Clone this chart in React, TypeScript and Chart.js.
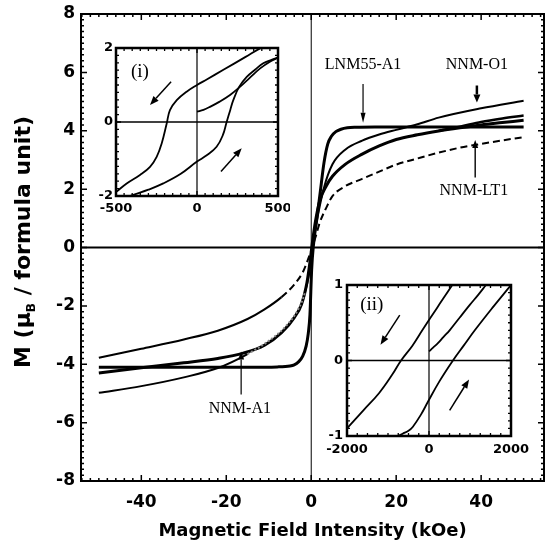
import React, { useEffect, useRef } from 'react';
import { Chart, registerables } from 'chart.js';
Chart.register(...registerables);

// ---------- main panel data (field in kOe, M in muB / f.u.) ----------
const FIELD_TICKS = [-40, -20, 0, 20, 40];
const M_TICKS = [-8, -6, -4, -2, 0, 2, 4, 6, 8];

const LNM_X = [-50, -30, -15, -8, -5, -4, -3, -2, -1.2, -0.7, -0.3, 0.1, 0.5, 1.3, 2.1, 3.0, 3.9, 4.8, 5.8, 7, 8.5, 10.5, 15, 25, 35, 50];
const LNM_Y = [-4.1, -4.1, -4.1, -4.09, -4.06, -4.02, -3.92, -3.72, -3.38, -2.95, -2.3, -0.75, 0.05, 0.96, 1.87, 2.9, 3.55, 3.82, 3.97, 4.05, 4.1, 4.12, 4.13, 4.13, 4.13, 4.13];

const O1_X = [-50, -40, -30, -22, -15, -10, -6, -3, -1.5, -0.5, 0, 0.5, 1.5, 3, 5, 8, 12, 16, 20, 25, 30, 40, 50];
const O1_Y = [-4.98, -4.75, -4.45, -4.13, -3.65, -3.2, -2.7, -2.1, -1.55, -0.9, -0.4, 0.2, 1.05, 2.05, 2.85, 3.35, 3.66, 3.87, 4.03, 4.22, 4.45, 4.77, 5.03];

const A1_X = [-50, -40, -30, -22, -16, -11, -7, -4, -2.3, -1, -0.3, 0.3, 1, 2, 3.5, 5, 8, 12, 16, 20, 25, 30, 35, 40, 45, 50];
const A1_Y = [-4.3, -4.12, -3.95, -3.8, -3.62, -3.35, -2.92, -2.4, -1.95, -1.2, -0.5, 0.2, 0.9, 1.6, 2.1, 2.44, 2.85, 3.2, 3.48, 3.7, 3.86, 3.99, 4.1, 4.2, 4.28, 4.36];
const A1_RET_X = [30, 35, 40, 45, 50];
const A1_RET_Y = [4.0, 4.14, 4.3, 4.42, 4.52];

const LT1_X = [-50, -40, -30, -22, -15, -11, -7, -4, -2, -1, 0, 1, 2, 3.5, 5, 8, 12, 16, 20, 25, 30, 35, 40, 45, 50];
const LT1_Y = [-3.78, -3.47, -3.15, -2.85, -2.45, -2.12, -1.7, -1.27, -0.85, -0.5, -0.1, 0.35, 0.85, 1.35, 1.76, 2.1, 2.35, 2.6, 2.84, 3.05, 3.25, 3.42, 3.55, 3.67, 3.78];

// ---------- inset (i): field in Oe ----------
const I_X_TICKS = [-500, 0, 500];
const I_Y_TICKS = [-2, 0, 2];
const I_DESC_X = [-496, -434, -352, -290, -249, -218, -187, -167, -125, -64, 0, 60, 163, 300, 389, 450, 500];
const I_DESC_Y = [-1.88, -1.66, -1.43, -1.21, -0.94, -0.58, -0.04, 0.32, 0.59, 0.82, 1.0, 1.15, 1.41, 1.76, 1.99, 2.12, 2.22];
const I_ASC_X = [-500, -440, -393, -300, -208, -100, 0, 60, 121, 160, 183, 205, 224, 260, 307, 360, 409, 460, 500];
const I_ASC_Y = [-2.15, -2.05, -1.97, -1.83, -1.66, -1.4, -1.07, -0.9, -0.67, -0.35, 0, 0.32, 0.59, 0.95, 1.22, 1.42, 1.59, 1.68, 1.74];
const I_VIRGIN_X = [0, 40, 80, 140, 204, 265, 327, 390, 450, 500];
const I_VIRGIN_Y = [0.28, 0.33, 0.41, 0.55, 0.73, 0.95, 1.2, 1.45, 1.63, 1.74];

// ---------- inset (ii): field in Oe ----------
const II_X_TICKS = [-2000, 0, 2000];
const II_Y_TICKS = [-1, 0, 1];
const II_DESC_X = [-2000, -1600, -1215, -900, -682, -400, -152, 200, 567, 800];
const II_DESC_Y = [-0.9, -0.66, -0.43, -0.19, 0, 0.2, 0.41, 0.7, 1.0, 1.2];
const II_ASC_X = [-750, -643, -500, -397, -200, -29, 250, 584, 850, 1117, 1550, 2000];
const II_ASC_Y = [-1.0, -0.97, -0.93, -0.88, -0.72, -0.55, -0.28, 0, 0.2, 0.4, 0.7, 1.0];
const II_VIRGIN_X = [0, 100, 217, 350, 503, 750, 1000, 1200, 1390];
const II_VIRGIN_Y = [0.12, 0.17, 0.23, 0.31, 0.4, 0.57, 0.74, 0.87, 1.0];

const pts = (xs: number[], ys: number[]) => xs.map((x, i) => ({ x, y: ys[i] }));

const SANS = 'DejaVu Sans';
const SERIF = 'Liberation Serif';

function drawArrow(ctx: CanvasRenderingContext2D, x1: number, y1: number, x2: number, y2: number, w: number, hl: number, hw: number) {
  const ang = Math.atan2(y2 - y1, x2 - x1);
  const bx = x2 - hl * Math.cos(ang);
  const by = y2 - hl * Math.sin(ang);
  ctx.lineWidth = w;
  ctx.beginPath();
  ctx.moveTo(x1, y1);
  ctx.lineTo(bx, by);
  ctx.stroke();
  ctx.beginPath();
  ctx.moveTo(x2, y2);
  ctx.lineTo(bx + (hw / 2) * Math.sin(ang), by - (hw / 2) * Math.cos(ang));
  ctx.lineTo(bx - (hw / 2) * Math.sin(ang), by + (hw / 2) * Math.cos(ang));
  ctx.closePath();
  ctx.fill();
}

const framePlugin = {
  id: 'frame',
  beforeDatasetsDraw(chart: any, _a: any, o: any) {
    const { ctx, chartArea: a, scales } = chart;
    ctx.save();
    ctx.strokeStyle = '#000';
    const py = scales.y.getPixelForValue(0);
    ctx.lineWidth = o.zeroH;
    ctx.beginPath();
    ctx.moveTo(a.left, py);
    ctx.lineTo(a.right, py);
    ctx.stroke();
    const px = scales.x.getPixelForValue(0);
    ctx.lineWidth = o.zeroV;
    ctx.beginPath();
    ctx.moveTo(px, a.top);
    ctx.lineTo(px, a.bottom);
    ctx.stroke();
    ctx.restore();
  },
  afterDatasetsDraw(chart: any, _a: any, o: any) {
    const { ctx, chartArea: a, scales } = chart;
    const xs = scales.x;
    const ys = scales.y;
    ctx.save();
    ctx.strokeStyle = '#000';
    ctx.lineWidth = o.tickWidth;
    ctx.beginPath();
    const isMajor = (v: number, m: number) => Math.abs(v / m - Math.round(v / m)) < 1e-6;
    for (let i = Math.ceil(xs.min / o.xMinor - 1e-6); i * o.xMinor <= xs.max + 1e-6; i++) {
      const v = i * o.xMinor;
      const len = isMajor(v, o.xMajor) ? o.major : o.minor;
      const p = xs.getPixelForValue(v);
      ctx.moveTo(p, a.bottom);
      ctx.lineTo(p, a.bottom - len);
      ctx.moveTo(p, a.top);
      ctx.lineTo(p, a.top + len);
    }
    for (let i = Math.ceil(ys.min / o.yMinor - 1e-6); i * o.yMinor <= ys.max + 1e-6; i++) {
      const v = i * o.yMinor;
      const len = isMajor(v, o.yMajor) ? o.major : o.minor;
      const p = ys.getPixelForValue(v);
      ctx.moveTo(a.left, p);
      ctx.lineTo(a.left + len, p);
      ctx.moveTo(a.right, p);
      ctx.lineTo(a.right - len, p);
    }
    ctx.stroke();
    ctx.lineWidth = o.frameWidth;
    ctx.strokeRect(a.left, a.top, a.right - a.left, a.bottom - a.top);
    ctx.restore();
  },
};

const notesPlugin = {
  id: 'notes',
  afterDatasetsDraw(chart: any, _a: any, o: any) {
    const { ctx, scales } = chart;
    const X = (v: number) => scales.x.getPixelForValue(v);
    const Y = (v: number) => scales.y.getPixelForValue(v);
    ctx.save();
    ctx.fillStyle = '#000';
    ctx.strokeStyle = '#000';
    ctx.textAlign = 'center';
    ctx.textBaseline = 'middle';
    (o.texts || []).forEach((t: any) => {
      ctx.font = `${t.size}px "${SERIF}"`;
      ctx.fillText(t.text, X(t.x), Y(t.y));
    });
    (o.arrows || []).forEach((r: any) => {
      drawArrow(ctx, X(r.x1), Y(r.y1), X(r.x2), Y(r.y2), r.w, r.hl, r.hw);
    });
    ctx.restore();
  },
};

const titlesPlugin = {
  id: 'titles',
  afterDraw(chart: any) {
    const { ctx, chartArea: a } = chart;
    ctx.save();
    ctx.fillStyle = '#000';
    ctx.textBaseline = 'middle';
    ctx.textAlign = 'center';
    ctx.font = `bold 18px "${SANS}"`;
    ctx.fillText('Magnetic Field Intensity (kOe)', (a.left + a.right) / 2, 531);
    // y title with subscript B
    const big = `bold 22px "${SANS}"`;
    const small = `bold 12px "${SANS}"`;
    const p1 = 'M (\u03bc';
    const p2 = 'B';
    const p3 = ' / formula unit)';
    ctx.font = big;
    const w1 = ctx.measureText(p1).width;
    const w3 = ctx.measureText(p3).width;
    ctx.font = small;
    const w2 = ctx.measureText(p2).width;
    const total = w1 + w2 + w3;
    ctx.translate(24, 242);
    ctx.rotate(-Math.PI / 2);
    ctx.textAlign = 'left';
    let x = -total / 2;
    ctx.font = big;
    ctx.fillText(p1, x, 0);
    x += w1;
    ctx.font = small;
    ctx.fillText(p2, x, 8);
    x += w2;
    ctx.font = big;
    ctx.fillText(p3, x, 0);
    ctx.restore();
  },
};

function makeScales(opt: {
  xMin: number; xMax: number; yMin: number; yMax: number; xTicks: number[]; yTicks: number[];
  yWidth: number; xHeight: number; fontSize: number; xPad: number; yPad: number;
}) {
  const font = { family: SANS, weight: 'bold' as const, size: opt.fontSize };
  const fmt = (v: any) => String(v);
  return {
    x: {
      type: 'linear' as const,
      min: opt.xMin,
      max: opt.xMax,
      grid: { display: false, drawTicks: false },
      border: { display: false },
      ticks: { font, color: '#000', padding: opt.xPad, maxRotation: 0, autoSkip: false, callback: fmt },
      afterBuildTicks: (s: any) => { s.ticks = opt.xTicks.map((v) => ({ value: v })); },
      afterFit: (s: any) => { s.height = opt.xHeight; s.paddingLeft = 0; s.paddingRight = 0; },
    },
    y: {
      type: 'linear' as const,
      min: opt.yMin,
      max: opt.yMax,
      grid: { display: false, drawTicks: false },
      border: { display: false },
      ticks: { font, color: '#000', padding: opt.yPad, autoSkip: false, callback: fmt },
      afterBuildTicks: (s: any) => { s.ticks = opt.yTicks.map((v) => ({ value: v })); },
      afterFit: (s: any) => { s.width = opt.yWidth; s.paddingTop = 0; s.paddingBottom = 0; },
    },
  };
}

const line = (data: any[], w: number, extra: any = {}) => ({
  data,
  borderColor: '#000',
  backgroundColor: '#000',
  borderWidth: w,
  pointRadius: 0,
  fill: false,
  cubicInterpolationMode: 'monotone',
  ...extra,
});

const smooth = (data: any[], w: number) => line(data, w, { cubicInterpolationMode: 'default', tension: 0.4 });

export default function App() {
  const mainRef = useRef<HTMLCanvasElement>(null);
  const in1Ref = useRef<HTMLCanvasElement>(null);
  const in2Ref = useRef<HTMLCanvasElement>(null);

  useEffect(() => {
    const charts: Chart[] = [];
    const common = {
      responsive: false,
      animation: false as const,
      devicePixelRatio: 1,
      events: [] as any[],
    };

    charts.push(new Chart(mainRef.current!, {
      type: 'line',
      data: {
        datasets: [
          line(pts(LT1_X, LT1_Y), 2, {
            borderDash: [7, 4],
            segment: { borderDash: (c: any) => (c.p1.parsed.x <= -6 ? [] : undefined) },
          }),
          line(pts(O1_X, O1_Y), 2, {
            segment: {
              borderColor: (c: any) => (c.p0.parsed.x >= -15 && c.p1.parsed.x <= -1 ? '#888' : undefined),
              borderDash: (c: any) => (c.p0.parsed.x >= -15 && c.p1.parsed.x <= -1 ? [2, 2] : undefined),
            },
          }),
          line(pts(A1_X, A1_Y), 3),
          line(pts(A1_RET_X, A1_RET_Y), 2.5),
          line(pts(LNM_X, LNM_Y), 3),
        ] as any,
      },
      options: {
        ...common,
        layout: { padding: { left: 0, top: 14, right: 2, bottom: 0 } },
        scales: makeScales({
          xMin: -54.2, xMax: 54.8, yMin: -8, yMax: 8, xTicks: FIELD_TICKS, yTicks: M_TICKS,
          yWidth: 81, xHeight: 69, fontSize: 17, xPad: 11, yPad: 6,
        }) as any,
        plugins: {
          legend: { display: false },
          tooltip: { enabled: false },
          frame: { zeroH: 2, zeroV: 1, tickWidth: 1.5, frameWidth: 2, xMinor: 2, xMajor: 20, yMinor: 0.2, yMajor: 2, minor: 3, major: 6 },
          notes: {
            texts: [
              { text: 'LNM55-A1', x: 12.2, y: 6.27, size: 16 },
              { text: 'NNM-O1', x: 39, y: 6.27, size: 16 },
              { text: 'NNM-LT1', x: 38.3, y: 1.93, size: 16 },
              { text: 'NNM-A1', x: -16.8, y: -5.52, size: 16 },
            ],
            arrows: [
              { x1: 12.2, y1: 5.6, x2: 12.2, y2: 4.27, w: 1.2, hl: 10, hw: 5 },
              { x1: 39, y1: 5.55, x2: 39, y2: 4.97, w: 2.5, hl: 8, hw: 7 },
              { x1: 38.6, y1: 2.4, x2: 38.6, y2: 3.68, w: 1.4, hl: 8, hw: 6 },
              { x1: -16.5, y1: -5.04, x2: -16.5, y2: -3.56, w: 1.2, hl: 8, hw: 6 },
            ],
          },
        } as any,
      },
      plugins: [framePlugin, notesPlugin, titlesPlugin],
    }));

    charts.push(new Chart(in1Ref.current!, {
      type: 'line',
      data: {
        datasets: [
          smooth(pts(I_DESC_X, I_DESC_Y), 1.8),
          smooth(pts(I_ASC_X, I_ASC_Y), 1.8),
          smooth(pts(I_VIRGIN_X, I_VIRGIN_Y), 1.8),
        ] as any,
      },
      options: {
        ...common,
        layout: { padding: { left: 0, top: 10, right: 12, bottom: 0 } },
        scales: makeScales({
          xMin: -500, xMax: 500, yMin: -2, yMax: 2, xTicks: I_X_TICKS, yTicks: I_Y_TICKS,
          yWidth: 26, xHeight: 27, fontSize: 13, xPad: 5, yPad: 3,
        }) as any,
        plugins: {
          legend: { display: false },
          tooltip: { enabled: false },
          frame: { zeroH: 1.5, zeroV: 1.2, tickWidth: 1.3, frameWidth: 2.5, xMinor: 50, xMajor: 500, yMinor: 0.2, yMajor: 2, minor: 3, major: 5 },
          notes: {
            texts: [{ text: '(i)', x: -352, y: 1.36, size: 19 }],
            arrows: [
              { x1: -160, y1: 1.09, x2: -290, y2: 0.46, w: 1.5, hl: 9, hw: 7 },
              { x1: 148, y1: -1.34, x2: 276, y2: -0.71, w: 1.5, hl: 9, hw: 7 },
            ],
          },
        } as any,
      },
      plugins: [framePlugin, notesPlugin],
    }));

    charts.push(new Chart(in2Ref.current!, {
      type: 'line',
      data: {
        datasets: [
          smooth(pts(II_DESC_X, II_DESC_Y), 1.8),
          smooth(pts(II_ASC_X, II_ASC_Y), 1.8),
          smooth(pts(II_VIRGIN_X, II_VIRGIN_Y), 1.8),
        ] as any,
      },
      options: {
        ...common,
        layout: { padding: { left: 0, top: 10, right: 27, bottom: 0 } },
        scales: makeScales({
          xMin: -2000, xMax: 2000, yMin: -1, yMax: 1, xTicks: II_X_TICKS, yTicks: II_Y_TICKS,
          yWidth: 29, xHeight: 29, fontSize: 13, xPad: 6, yPad: 4,
        }) as any,
        plugins: {
          legend: { display: false },
          tooltip: { enabled: false },
          frame: { zeroH: 1.5, zeroV: 1.2, tickWidth: 1.3, frameWidth: 2.5, xMinor: 250, xMajor: 2000, yMinor: 0.1, yMajor: 1, minor: 3, major: 5 },
          notes: {
            texts: [{ text: '(ii)', x: -1396, y: 0.74, size: 19 }],
            arrows: [
              { x1: -714, y1: 0.6, x2: -1183, y2: 0.21, w: 1.5, hl: 9, hw: 7 },
              { x1: 503, y1: -0.66, x2: 977, y2: -0.25, w: 1.5, hl: 9, hw: 7 },
            ],
          },
        } as any,
      },
      plugins: [framePlugin, notesPlugin],
    }));

    return () => charts.forEach((c) => c.destroy());
  }, []);

  return (
    <div style={{ position: 'absolute', left: 0, top: 0, width: 546, height: 550, background: '#fff', overflow: 'hidden' }}>
      <canvas ref={mainRef} width={546} height={550} style={{ position: 'absolute', left: 0, top: 0 }} />
      <canvas ref={in1Ref} width={200} height={185} style={{ position: 'absolute', left: 90, top: 38 }} />
      <canvas ref={in2Ref} width={220} height={190} style={{ position: 'absolute', left: 318, top: 275 }} />
    </div>
  );
}
